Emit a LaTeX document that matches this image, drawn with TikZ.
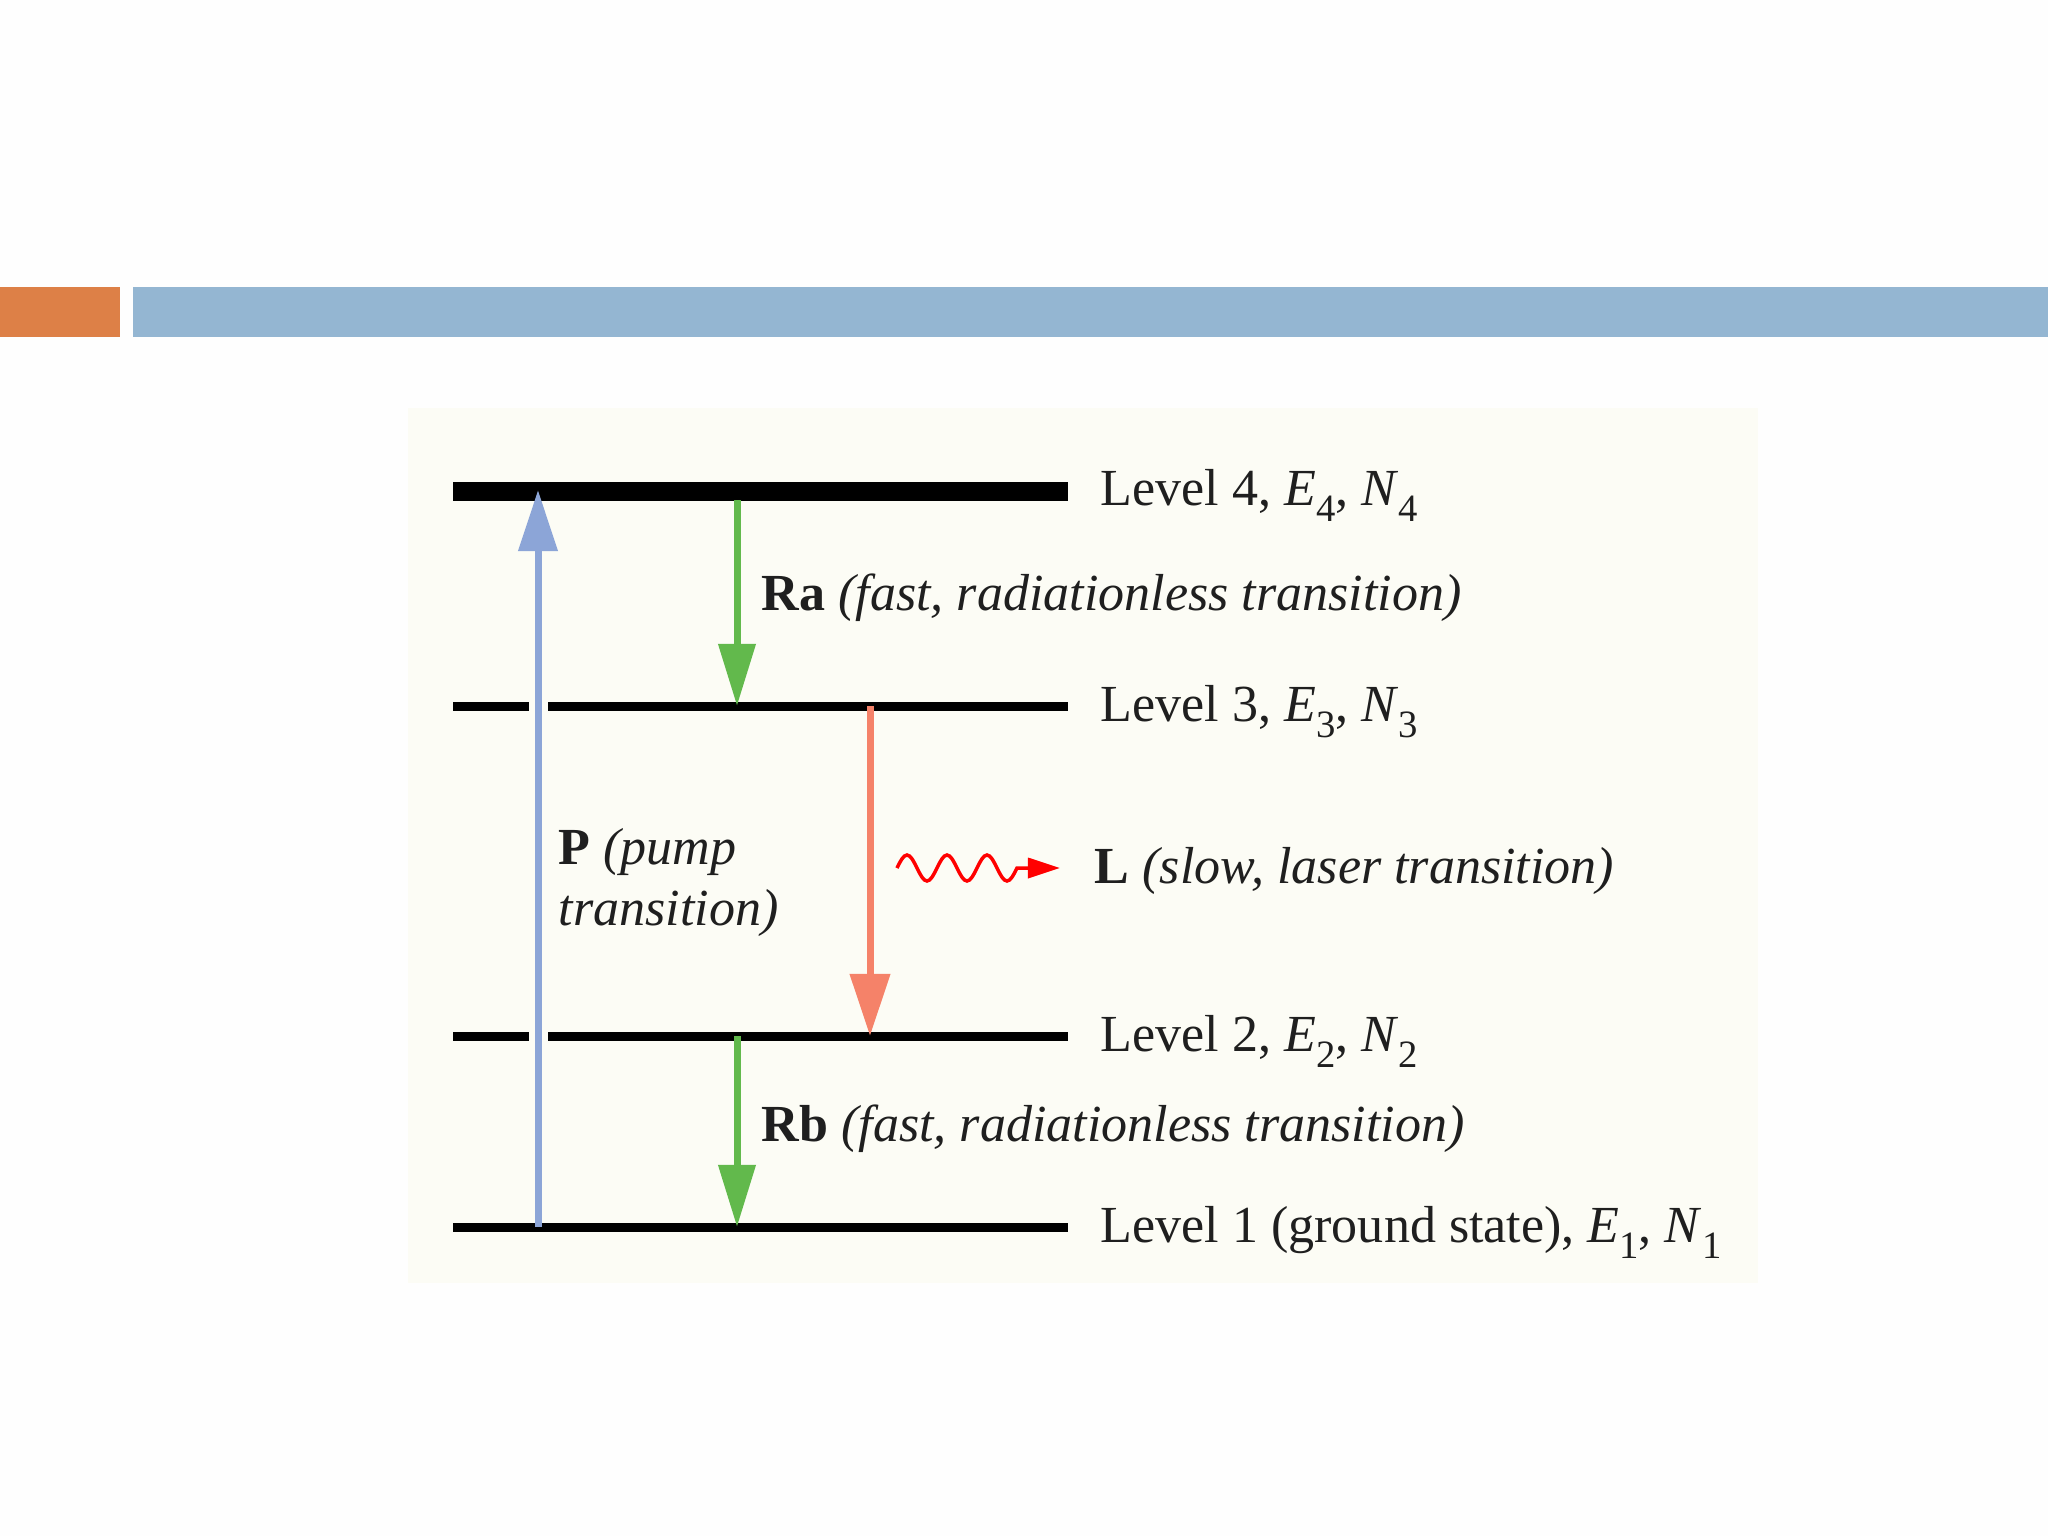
\documentclass[tikz,border=0pt]{standalone}
\usepackage{fontspec}
\setmainfont{Liberation Serif}
\usetikzlibrary{arrows.meta}
\definecolor{pagebg}{RGB}{254,254,254}
\definecolor{panelbg}{RGB}{252,252,245}
\definecolor{barorange}{RGB}{221,128,71}
\definecolor{barblue}{RGB}{148,182,210}
\definecolor{pumpblue}{RGB}{140,165,215}
\definecolor{relaxgreen}{RGB}{98,185,76}
\definecolor{lasersalmon}{RGB}{245,130,105}
\newcommand\lsub[1]{\raisebox{-0.7ex}{\fontsize{11pt}{11pt}\selectfont #1}}
\begin{document}
\begin{tikzpicture}[x=0.01cm,y=-0.01cm,
  lbl/.style={anchor=base west, inner sep=0pt, font=\fontsize{14.8pt}{17.4pt}\selectfont, text=black!88},
  thinlevel/.style={line width=0.09cm, black},
  thicklevel/.style={line width=0.19cm, black},
  trans/.style={line width=0.07cm},
  pumparrow/.style={trans, pumpblue, -{Triangle[length=6.1mm,width=3.8mm]}},
  relaxarrow/.style={trans, relaxgreen, -{Triangle[length=6.2mm,width=3.6mm]}},
  laserarrow/.style={trans, lasersalmon, -{Triangle[length=6.2mm,width=3.9mm]}},
  gapline/.style={panelbg, line width=0.19cm}
]
\useasboundingbox (0,0) rectangle (2048,1536);
\fill[pagebg] (0,0) rectangle (2048,1536);
% header bars
\fill[barorange] (0,287) rectangle (120,337);
\fill[barblue] (133,287) rectangle (2048,337);
% panel
\fill[panelbg] (408,408) rectangle (1758,1283);

% level end points
\coordinate (l4a) at (453,491);  \coordinate (l4b) at (1068,491);
\coordinate (l3a) at (453,706);  \coordinate (l3b) at (1068,706);
\coordinate (l2a) at (453,1036); \coordinate (l2b) at (1068,1036);
\coordinate (l1a) at (453,1227); \coordinate (l1b) at (1068,1227);

\draw[thicklevel] (l4a) -- (l4b);
\draw[thinlevel] (l3a) -- (l3b);
\draw[thinlevel] (l2a) -- (l2b);
\draw[thinlevel] (l1a) -- (l1b);

% gaps where the pump arrow crosses levels 3 and 2
\coordinate (g3a) at (538,694); \coordinate (g3b) at (538,718);
\coordinate (g2a) at (538,1024); \coordinate (g2b) at (538,1048);
\draw[gapline] (g3a) -- (g3b);
\draw[gapline] (g2a) -- (g2b);

% transition end points
\coordinate (pstart) at (538,1227); \coordinate (pend) at (538,490);
\coordinate (rastart) at (737,500); \coordinate (raend) at (737,706);
\coordinate (lstart) at (870,706);  \coordinate (lend) at (870,1036);
\coordinate (rbstart) at (737,1036); \coordinate (rbend) at (737,1227);

\draw[pumparrow] (pstart) -- (pend);
\draw[relaxarrow] (rastart) -- (raend);
\draw[laserarrow] (lstart) -- (lend);
\draw[relaxarrow] (rbstart) -- (rbend);

% photon wave
\coordinate (wstart) at (897,868);
\coordinate (wend) at (1060,868);
\draw[red, line width=0.035cm, -{Triangle[length=3.2mm,width=2mm]}]
  (wstart) sin (907,855) cos (917,868) sin (927,881) cos (937,868)
  sin (947,855) cos (957,868) sin (967,881) cos (977,868)
  sin (987,855) cos (997,868) sin (1007,881) cos (1017,868) -- (wend);

% labels
\node[lbl] (t4) at (1100,505) {Level 4, \textit{E}\lsub{4}, \textit{N}\lsub{4}};
\node[lbl] (t3) at (1100,721) {Level 3, \textit{E}\lsub{3}, \textit{N}\lsub{3}};
\node[lbl] (t2) at (1100,1051) {Level 2, \textit{E}\lsub{2}, \textit{N}\lsub{2}};
\node[lbl] (t1) at (1100,1242) {Level 1 (ground state), \textit{E}\lsub{1}, \textit{N}\lsub{1}};
\node[lbl] (tra) at (761,610) {\textbf{Ra} \textit{(fast, radiationless transition)}};
\node[lbl] (trb) at (761,1141) {\textbf{Rb} \textit{(fast, radiationless transition)}};
\node[lbl] (tl) at (1094,883) {\textbf{L} \textit{(slow, laser transition)}};
\node[lbl] (tp1) at (558,864) {\textbf{P} \textit{(pump}};
\node[lbl] (tp2) at (558,925) {\textit{transition)}};
\end{tikzpicture}
\end{document}
